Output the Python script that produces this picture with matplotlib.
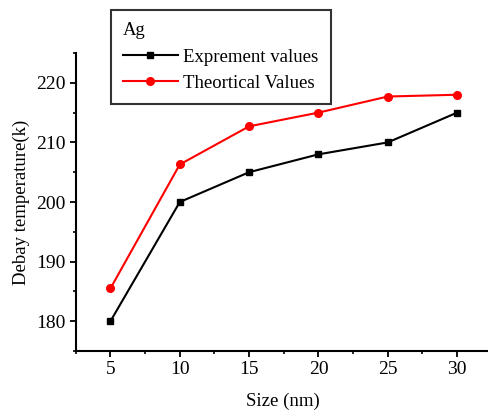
import numpy as np
import matplotlib.pyplot as plt
from matplotlib.ticker import MultipleLocator

plt.rcParams['font.family'] = ['Liberation Serif', 'DejaVu Serif']

size_nm = [5, 10, 15, 20, 25, 30]
expt_values = [180, 200, 205, 208, 210, 215]
theory_values = [185.5, 206.3, 212.7, 215.0, 217.7, 218.0]

fig = plt.figure(figsize=(4.89, 4.11), dpi=100)
ax = fig.add_axes([0.155, 0.146, 0.845, 0.725])

ax.plot(size_nm, expt_values, color='black', marker='s', markersize=5,
        linewidth=1.5, label='Exprement values')
ax.plot(size_nm, theory_values, color='red', marker='o', markersize=5.5,
        linewidth=1.5, label='Theortical Values')

ax.set_xlim(2.5, 32.3)
ax.set_ylim(175, 225)
ax.xaxis.set_major_locator(MultipleLocator(5))
ax.xaxis.set_minor_locator(MultipleLocator(2.5))
ax.yaxis.set_major_locator(MultipleLocator(10))
ax.yaxis.set_minor_locator(MultipleLocator(5))

for side in ['top', 'right']:
    ax.spines[side].set_visible(False)
for side in ['left', 'bottom']:
    ax.spines[side].set_linewidth(1.5)

ax.tick_params(which='major', direction='out', length=4.5, width=1.3,
               labelsize=14, colors='black', pad=3)
ax.tick_params(which='minor', direction='out', length=2.5, width=1.2)

ax.set_xlabel('Size (nm)', fontsize=13.5, labelpad=10)
ax.set_ylabel('Debay temperature(k)', fontsize=13.5, labelpad=4)

leg = fig.legend(loc='upper left', bbox_to_anchor=(0.227, 0.976),
                 title='Ag', fontsize=13.5, title_fontsize=13.5,
                 handlelength=2.9, handletextpad=0.3, frameon=True,
                 fancybox=False, borderpad=0.65, borderaxespad=0,
                 labelspacing=0.5, alignment='left')
leg.get_frame().set_edgecolor('black')
leg.get_frame().set_linewidth(1.5)

fig.savefig('out.png', dpi=100)
